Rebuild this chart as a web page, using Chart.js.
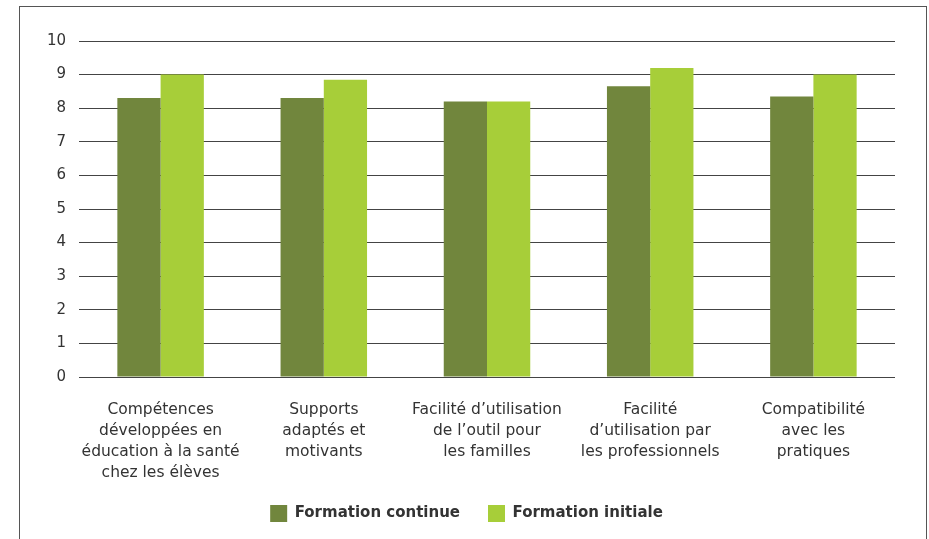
<!DOCTYPE html>
<html>
<head>
<meta charset="utf-8">
<script src="https://cdn.jsdelivr.net/npm/chart.js@4"></script>
<style>
  html, body { margin: 0; padding: 0; background: #fff; overflow: hidden; }
  #wrap { position: relative; width: 929px; height: 539px; overflow: hidden; }
  #frame { position: absolute; left: 19px; top: 6px; width: 908px; height: 600px; border: 1px solid #555; box-sizing: border-box; }
  canvas { position: absolute; left: 0; top: 0; }
</style>
</head>
<body>
<div id="wrap">
  <div id="frame"></div>
  <canvas id="myChart" width="929" height="539"></canvas>
</div>
<script>
// categories (multi-line labels)
var categories = [
  ["Compétences", "développées en", "éducation à la santé", "chez les élèves"],
  ["Supports", "adaptés et", "motivants"],
  ["Facilité d’utilisation", "de l’outil pour", "les familles"],
  ["Facilité", "d’utilisation par", "les professionnels"],
  ["Compatibilité", "avec les", "pratiques"]
];
var seriesNames = ["Formation continue", "Formation initiale"];
var continueValues = [8.3, 8.3, 8.2, 8.65, 8.35];
var initialeValues = [9.0, 8.85, 8.2, 9.2, 9.0];
var yTicks = [0, 1, 2, 3, 4, 5, 6, 7, 8, 9, 10];

var fontFamily = "'DejaVu Sans', sans-serif";

const data = {
  labels: categories,
  datasets: [
    {
      label: seriesNames[0],
      data: continueValues,
      backgroundColor: "#71863d",
      borderWidth: 0
    },
    {
      label: seriesNames[1],
      data: initialeValues,
      backgroundColor: "#a7ce39",
      borderWidth: 0
    }
  ]
};

const config = {
  type: "bar",
  data: data,
  options: {
    responsive: false,
    animation: false,
    categoryPercentage: 0.53,
    barPercentage: 1.0,
    layout: {
      padding: { top: 41, left: 38, right: 34, bottom: 7 }
    },
    plugins: {
      tooltip: { enabled: false },
      legend: {
        position: "bottom",
        labels: {
          boxWidth: 17,
          boxHeight: 17,
          padding: 28,
          color: "#333",
          font: { family: fontFamily, size: 15, weight: "bold" }
        }
      }
    },
    scales: {
      x: {
        grid: { display: false, drawTicks: false },
        border: { display: false },
        ticks: {
          color: "#333",
          padding: 22,
          maxRotation: 0,
          autoSkip: false,
          font: { family: fontFamily, size: 15.5, lineHeight: 1.36 }
        },
        afterFit: function(scale) { scale.height = 100; }
      },
      y: {
        min: 0,
        max: 10,
        afterBuildTicks: function(scale) {
          scale.ticks = yTicks.map(function(v) { return { value: v }; });
        },
        grid: { color: "#444", lineWidth: 1, drawTicks: false },
        border: { display: false },
        ticks: {
          color: "#333",
          padding: 13,
          font: { family: fontFamily, size: 15 }
        },
        afterFit: function(scale) { scale.width = 41; }
      }
    }
  }
};

new Chart(document.getElementById("myChart"), config);
</script>
</body>
</html>
